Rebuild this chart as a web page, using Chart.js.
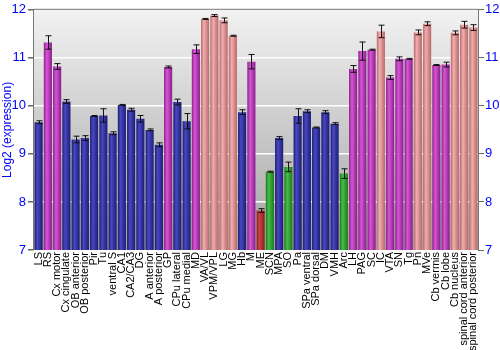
<!DOCTYPE html>
<html>
<head>
<meta charset="utf-8">
<script src="https://cdn.jsdelivr.net/npm/chart.js@4"></script>
<style>
  html, body { margin: 0; padding: 0; background: #fff; }
  #wrap { width: 500px; height: 350px; }
</style>
</head>
<body>
<div id="wrap"><canvas id="chart" width="500" height="350"></canvas></div>
<script>
// brain regions, mean log2 expression, error (+/-), and colour group
const regions = [
  "LS", "RS", "Cx motor", "Cx cingulate", "OB anterior", "OB posterior", "Pir", "Tu",
  "ventral S", "CA1", "CA2/CA3", "DG", "A anterior", "A posterior", "GP", "CPu lateral",
  "CPu medial", "MD", "VA/VL", "VPM/VPL", "LG", "MG", "Hb", "M", "ME", "SCN", "MPA",
  "SO", "Pa", "SPa ventral", "SPa dorsal", "DM", "VMH", "Arc", "LH", "PAG", "SC", "IC",
  "VTA", "SN", "Tg", "Pn", "MVe", "Cb vermis", "Cb lobe", "Cb nucleus",
  "spinal cord anterior", "spinal cord posterior"
];
const expression = [
  9.66, 11.32, 10.82, 10.09, 9.30, 9.33, 9.79, 9.80,
  9.43, 10.02, 9.92, 9.73, 9.50, 9.19, 10.81, 10.08,
  9.68, 11.18, 11.81, 11.88, 11.78, 11.46, 9.87, 10.92, 7.82, 8.63, 9.33,
  8.73, 9.79, 9.89, 9.55, 9.87, 9.63, 8.59, 10.77, 11.14, 11.17, 11.55,
  10.59, 10.98, 10.98, 11.53, 11.71, 10.85, 10.86, 11.52,
  11.69, 11.63
];
const errors = [
  0.03, 0.14, 0.06, 0.04, 0.07, 0.05, 0.01, 0.14,
  0.03, 0.01, 0.03, 0.07, 0.02, 0.04, 0.02, 0.06,
  0.16, 0.09, 0.01, 0.02, 0.05, 0.01, 0.05, 0.15, 0.04, 0.01, 0.03,
  0.10, 0.15, 0.03, 0.01, 0.03, 0.02, 0.10, 0.07, 0.19, 0.01, 0.13,
  0.04, 0.04, 0.01, 0.05, 0.04, 0.01, 0.05, 0.04,
  0.07, 0.06
];
const groups = [
  "b", "m", "m", "b", "b", "b", "b", "b",
  "b", "b", "b", "b", "b", "b", "m", "b",
  "b", "m", "p", "p", "p", "p", "b", "m", "r", "g", "b",
  "g", "b", "b", "b", "b", "b", "g", "m", "m", "m", "p",
  "m", "m", "m", "p", "p", "m", "m", "p",
  "p", "p"
];
const yTicks = [7, 8, 9, 10, 11, 12];

// edge / centre colours for the cylinder shading
const palette = {
  b: ["#1c1c70", "#4848c4"],
  m: ["#8c1c8c", "#d458d4"],
  p: ["#b86868", "#f2aeae"],
  g: ["#1a7a1a", "#48bc48"],
  r: ["#8a1c1c", "#c84444"]
};

// grey vertical wash behind the bars + frame
const plotBackground = {
  id: "plotBackground",
  beforeDraw(chart) {
    const { ctx, chartArea: a } = chart;
    const g = ctx.createLinearGradient(0, a.top, 0, a.bottom);
    g.addColorStop(0, "#f2f2f2");
    g.addColorStop(1, "#a2a2a2");
    ctx.save();
    ctx.fillStyle = g;
    ctx.fillRect(a.left, a.top, a.right - a.left, a.bottom - a.top);
    ctx.restore();
  },
  afterDatasetsDraw(chart) {
    const { ctx, chartArea: a } = chart;
    ctx.save();
    ctx.strokeStyle = "#777";
    ctx.lineWidth = 1;
    ctx.beginPath();
    ctx.moveTo(a.left - 0.5, a.bottom);
    ctx.lineTo(a.left - 0.5, a.top - 0.5);
    ctx.lineTo(a.right + 0.5, a.top - 0.5);
    ctx.lineTo(a.right + 0.5, a.bottom);
    ctx.stroke();
    ctx.restore();
  }
};

// horizontal gradient per bar, set once the bar geometry is known
const barShading = {
  id: "barShading",
  beforeDatasetsDraw(chart) {
    const { ctx } = chart;
    chart.getDatasetMeta(0).data.forEach((bar, i) => {
      const pal = palette[groups[i]];
      const x0 = bar.x - bar.width / 2, x1 = bar.x + bar.width / 2;
      const g = ctx.createLinearGradient(x0, 0, x1, 0);
      g.addColorStop(0, pal[0]);
      g.addColorStop(0.35, pal[1]);
      g.addColorStop(1, pal[0]);
      bar.options.backgroundColor = g;
    });
  }
};

// error whiskers with caps
const errorBars = {
  id: "errorBars",
  afterDatasetsDraw(chart) {
    const { ctx } = chart;
    const y = chart.scales.y;
    const meta = chart.getDatasetMeta(0);
    ctx.save();
    ctx.strokeStyle = "#111";
    ctx.lineWidth = 1;
    meta.data.forEach((bar, i) => {
      const x = Math.round(bar.x) + 0.5;
      const hi = y.getPixelForValue(expression[i] + errors[i]);
      const lo = y.getPixelForValue(expression[i] - errors[i]);
      ctx.beginPath();
      ctx.moveTo(x, hi); ctx.lineTo(x, lo);
      ctx.moveTo(x - 3, hi); ctx.lineTo(x + 3, hi);
      ctx.moveTo(x - 3, lo); ctx.lineTo(x + 3, lo);
      ctx.stroke();
    });
    ctx.restore();
  }
};

const tickFont = { family: "'Liberation Sans', Arial, sans-serif", size: 13 };

new Chart(document.getElementById("chart"), {
  type: "bar",
  data: {
    labels: regions,
    datasets: [{
      data: expression,
      backgroundColor: groups.map(k => palette[k][1]),
      borderWidth: 0,
      barPercentage: 0.88,
      categoryPercentage: 1.0
    }]
  },
  options: {
    responsive: false,
    animation: false,
    layout: { padding: { top: 9, left: 0, right: 0, bottom: 0 } },
    plugins: { legend: { display: false }, tooltip: { enabled: false } },
    scales: {
      x: {
        grid: { display: false, drawTicks: false },
        border: { display: false },
        ticks: {
          autoSkip: false,
          minRotation: 90,
          maxRotation: 90,
          padding: 2,
          color: "#000",
          font: { family: "'Liberation Sans', Arial, sans-serif", size: 11 }
        },
        afterFit(s) { s.height = 100; }
      },
      y: {
        position: "left",
        min: 7,
        max: 12,
        afterBuildTicks(s) { s.ticks = yTicks.map(v => ({ value: v })); },
        grid: {
          color: (c) => (c.tick && (c.tick.value === 7 || c.tick.value === 12)) ? "rgba(0,0,0,0)" : "#ffffff",
          tickColor: "#666",
          tickLength: 6,
          lineWidth: 1.5
        },
        border: { display: false },
        ticks: { color: "#0000ff", font: tickFont, padding: 2 },
        title: {
          display: true,
          text: "Log2 (expression)",
          color: "#0000ff",
          font: { family: "'Liberation Sans', Arial, sans-serif", size: 12 },
          padding: 0
        },
        afterFit(s) { s.width = 34; }
      },
      y2: {
        position: "right",
        min: 7,
        max: 12,
        afterBuildTicks(s) { s.ticks = yTicks.map(v => ({ value: v })); },
        grid: { drawOnChartArea: false, tickColor: "#666", tickLength: 6 },
        border: { display: false },
        ticks: { color: "#0000ff", font: tickFont, padding: 1 },
        afterFit(s) { s.width = 22; }
      }
    }
  },
  plugins: [plotBackground, barShading, errorBars]
});
</script>
</body>
</html>
